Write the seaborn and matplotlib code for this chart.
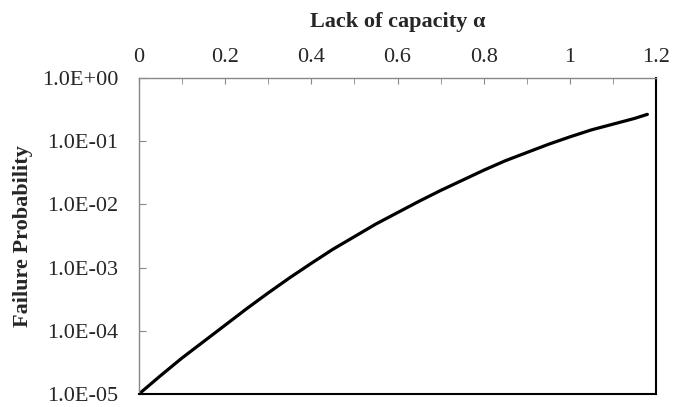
import numpy as np
import pandas as pd
import matplotlib
matplotlib.use("Agg")
import matplotlib.pyplot as plt
import seaborn as sns
from matplotlib.ticker import FixedLocator, MultipleLocator, NullLocator

# Data
alpha = [0.00, 0.05, 0.10, 0.15, 0.20, 0.25, 0.30, 0.35, 0.40, 0.45, 0.50, 0.55,
         0.60, 0.65, 0.70, 0.75, 0.80, 0.85, 0.90, 0.95, 1.00, 1.05, 1.10, 1.15, 1.18]
failure_prob = [1.00e-5, 1.95e-5, 3.72e-5, 6.76e-5, 1.23e-4, 2.24e-4, 3.98e-4, 6.92e-4,
                1.17e-3, 1.95e-3, 3.09e-3, 4.90e-3, 7.41e-3, 1.12e-2, 1.66e-2, 2.40e-2,
                3.47e-2, 4.90e-2, 6.61e-2, 8.91e-2, 0.117, 0.151, 0.186, 0.229, 0.266]
x_ticks = [0, 0.2, 0.4, 0.6, 0.8, 1.0, 1.2]
x_tick_labels = ["0", "0.2", "0.4", "0.6", "0.8", "1", "1.2"]
y_ticks = [1e-5, 1e-4, 1e-3, 1e-2, 1e-1, 1e0]
y_tick_labels = ["1.0E-05", "1.0E-04", "1.0E-03", "1.0E-02", "1.0E-01", "1.0E+00"]
x_label = "Lack of capacity α"
y_label = "Failure Probability"

sns.set_style("white")
plt.rcParams["font.family"] = ["Liberation Serif", "DejaVu Serif"]

df = pd.DataFrame({"alpha": alpha, "pf": failure_prob})

fig = plt.figure(figsize=(6.74, 4.07), dpi=100)
ax = fig.add_axes([139 / 674, 1 - 394 / 407, (656 - 139) / 674, (394 - 78) / 407])

sns.lineplot(data=df, x="alpha", y="pf", ax=ax, color="black", linewidth=2.3)

ax.set_yscale("log")
ax.set_xlim(0, 1.2)
ax.set_ylim(1e-5, 1e0)

ax.xaxis.set_major_locator(FixedLocator(x_ticks))
ax.set_xticklabels(x_tick_labels)
ax.xaxis.set_minor_locator(MultipleLocator(0.1))
ax.xaxis.tick_top()
ax.xaxis.set_label_position("top")
ax.tick_params(axis="x", which="both", direction="in", length=4, color="#888888",
               top=True, bottom=False, labeltop=True, labelbottom=False,
               labelsize=16, pad=8)

ax.yaxis.set_major_locator(FixedLocator(y_ticks))
ax.yaxis.set_minor_locator(NullLocator())
ax.set_yticklabels(y_tick_labels)
ax.tick_params(axis="y", which="both", direction="in", length=5, color="#888888",
               left=True, right=False, labelsize=16, pad=15)

ax.set_xlabel(x_label, fontsize=16, fontweight="bold", labelpad=15)
ax.set_ylabel(y_label, fontsize=16, fontweight="bold", labelpad=6)

for s in ax.spines.values():
    s.set_visible(True)
for side in ["top", "left"]:
    ax.spines[side].set_color("#888888")
    ax.spines[side].set_linewidth(1.0)
for side in ["right", "bottom"]:
    ax.spines[side].set_color("black")
    ax.spines[side].set_linewidth(1.5)

ax.grid(False)
fig.savefig("out.png", dpi=100)
